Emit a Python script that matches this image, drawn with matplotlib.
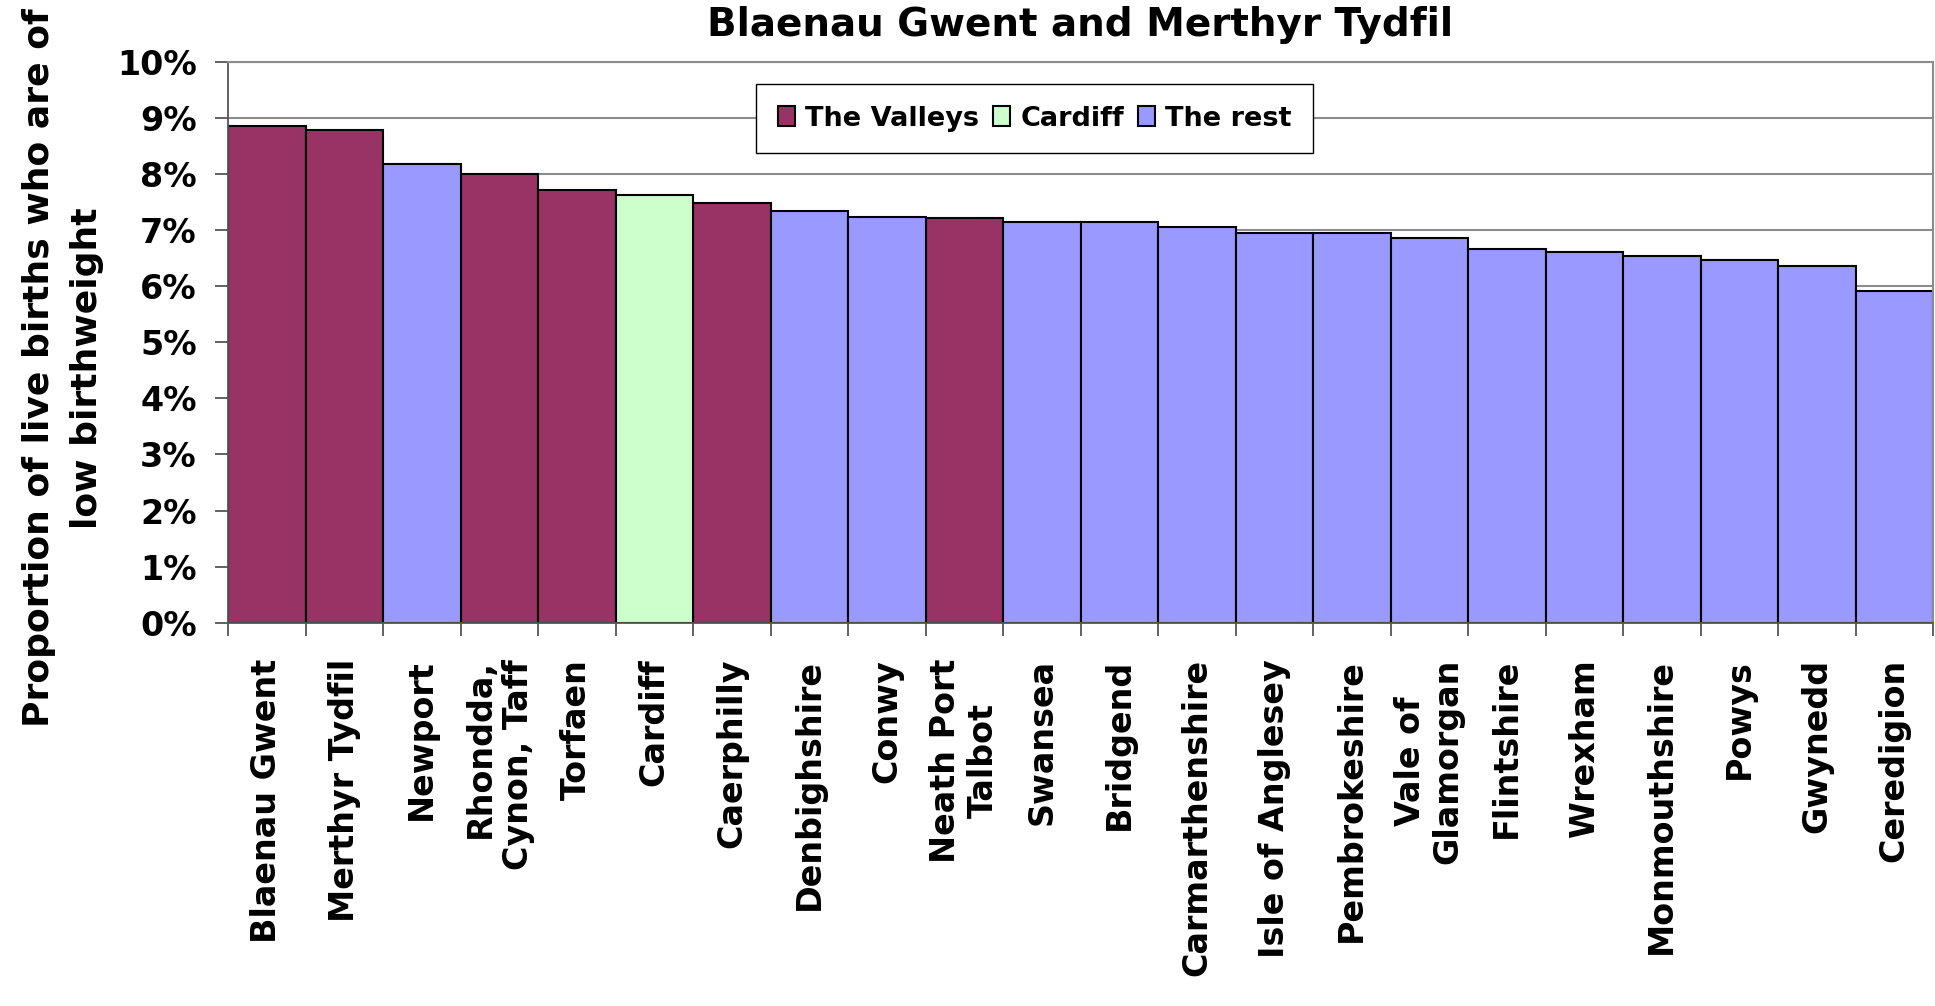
import matplotlib
matplotlib.use("Agg")
import matplotlib.pyplot as plt
import matplotlib.ticker as ticker
import numpy as np

# Low birthweight by local authority (per cent of live births)
areas = ["Blaenau Gwent", "Merthyr Tydfil", "Newport", "Rhondda,\nCynon, Taff",
         "Torfaen", "Cardiff", "Caerphilly", "Denbighshire", "Conwy",
         "Neath Port\nTalbot", "Swansea", "Bridgend", "Carmarthenshire",
         "Isle of Anglesey", "Pembrokeshire", "Vale of\nGlamorgan", "Flintshire",
         "Wrexham", "Monmouthshire", "Powys", "Gwynedd", "Ceredigion"]
lowbirthweight = [8.85, 8.78, 8.18, 8.00, 7.72, 7.63, 7.49, 7.34, 7.23, 7.21, 7.14,
                  7.14, 7.05, 6.95, 6.95, 6.86, 6.66, 6.61, 6.54, 6.46, 6.36, 5.92]
groups = ["The Valleys", "The Valleys", "The rest", "The Valleys", "The Valleys",
          "Cardiff", "The Valleys", "The rest", "The rest", "The Valleys",
          "The rest", "The rest", "The rest", "The rest", "The rest", "The rest",
          "The rest", "The rest", "The rest", "The rest", "The rest", "The rest"]
groupnames = ["The Valleys", "Cardiff", "The rest"]
groupcolours = {"The Valleys": "#993366", "Cardiff": "#CCFFCC", "The rest": "#9999FF"}

plt.rcParams['font.family'] = ['DejaVu Sans']
plt.rcParams['font.weight'] = 'bold'

fig = plt.figure(figsize=(19.35, 10.06), dpi=100)
ax = fig.add_axes([228/1935, 1 - 622.7/1006, 1705/1935, 560.7/1006])

x = np.arange(len(areas))
values = np.array(lowbirthweight)

# one bar call per group so the legend picks up each colour once
for name in groupnames:
    idx = [i for i, g in enumerate(groups) if g == name]
    ax.bar(x[idx], values[idx], width=1.0, color=groupcolours[name],
           edgecolor='black', linewidth=1.5, label=name, zorder=2)

ax.set_xlim(-0.5, len(areas) - 0.5)
ax.set_ylim(0, 10)
ax.yaxis.set_major_locator(ticker.MultipleLocator(1))
ax.yaxis.set_major_formatter(ticker.FormatStrFormatter('%d%%'))
ax.set_axisbelow(True)
ax.grid(axis='y', color='#8c8c8c', linewidth=1.5, zorder=0)

# category labels at bar centres, tick marks on the boundaries
ax.set_xticks(x)
ax.set_xticklabels(areas, rotation=90, ha='center', va='top', fontsize=24,
                   fontweight='bold')
for lab in ax.get_xticklabels():
    if lab.get_text().startswith("Rhondda"):
        lab.set_multialignment('right')
ax.set_xticks(np.arange(-0.5, len(areas)), minor=True)
ax.tick_params(axis='x', which='major', length=0, pad=26)
ax.tick_params(axis='x', which='minor', length=9.5, width=1.3, color='#555555')
ax.tick_params(axis='y', length=9.5, width=1.3, color='#555555', pad=13,
               labelsize=24)
for lab in ax.get_yticklabels():
    lab.set_fontweight('bold')

for side in ['left', 'bottom']:
    ax.spines[side].set_color('#555555')
    ax.spines[side].set_linewidth(1.3)
for side in ['top', 'right']:
    ax.spines[side].set_color('#8c8c8c')
    ax.spines[side].set_linewidth(1.5)

ax.set_title('Blaenau Gwent and Merthyr Tydfil', fontsize=28,
             fontweight='bold', pad=19)

fig.text(63/1935, 1 - 368/1006,
         'Proportion of live births who are of\nlow birthweight',
         rotation=90, ha='center', va='center', fontsize=26, fontweight='bold',
         linespacing=1.5)

leg = ax.legend(loc='upper left', bbox_to_anchor=((756 - 228)/1705, (622.7 - 84)/560.7),
                borderaxespad=0, ncol=3, frameon=True, fancybox=False,
                framealpha=1, edgecolor='black', handlelength=0.65,
                handleheight=0.75, handletextpad=0.37, columnspacing=0.5,
                borderpad=0.8, prop={'weight': 'bold', 'size': 19.5})
leg.get_frame().set_linewidth(1.0)
leg.set_zorder(5)

fig.savefig('out.png', dpi=100)
